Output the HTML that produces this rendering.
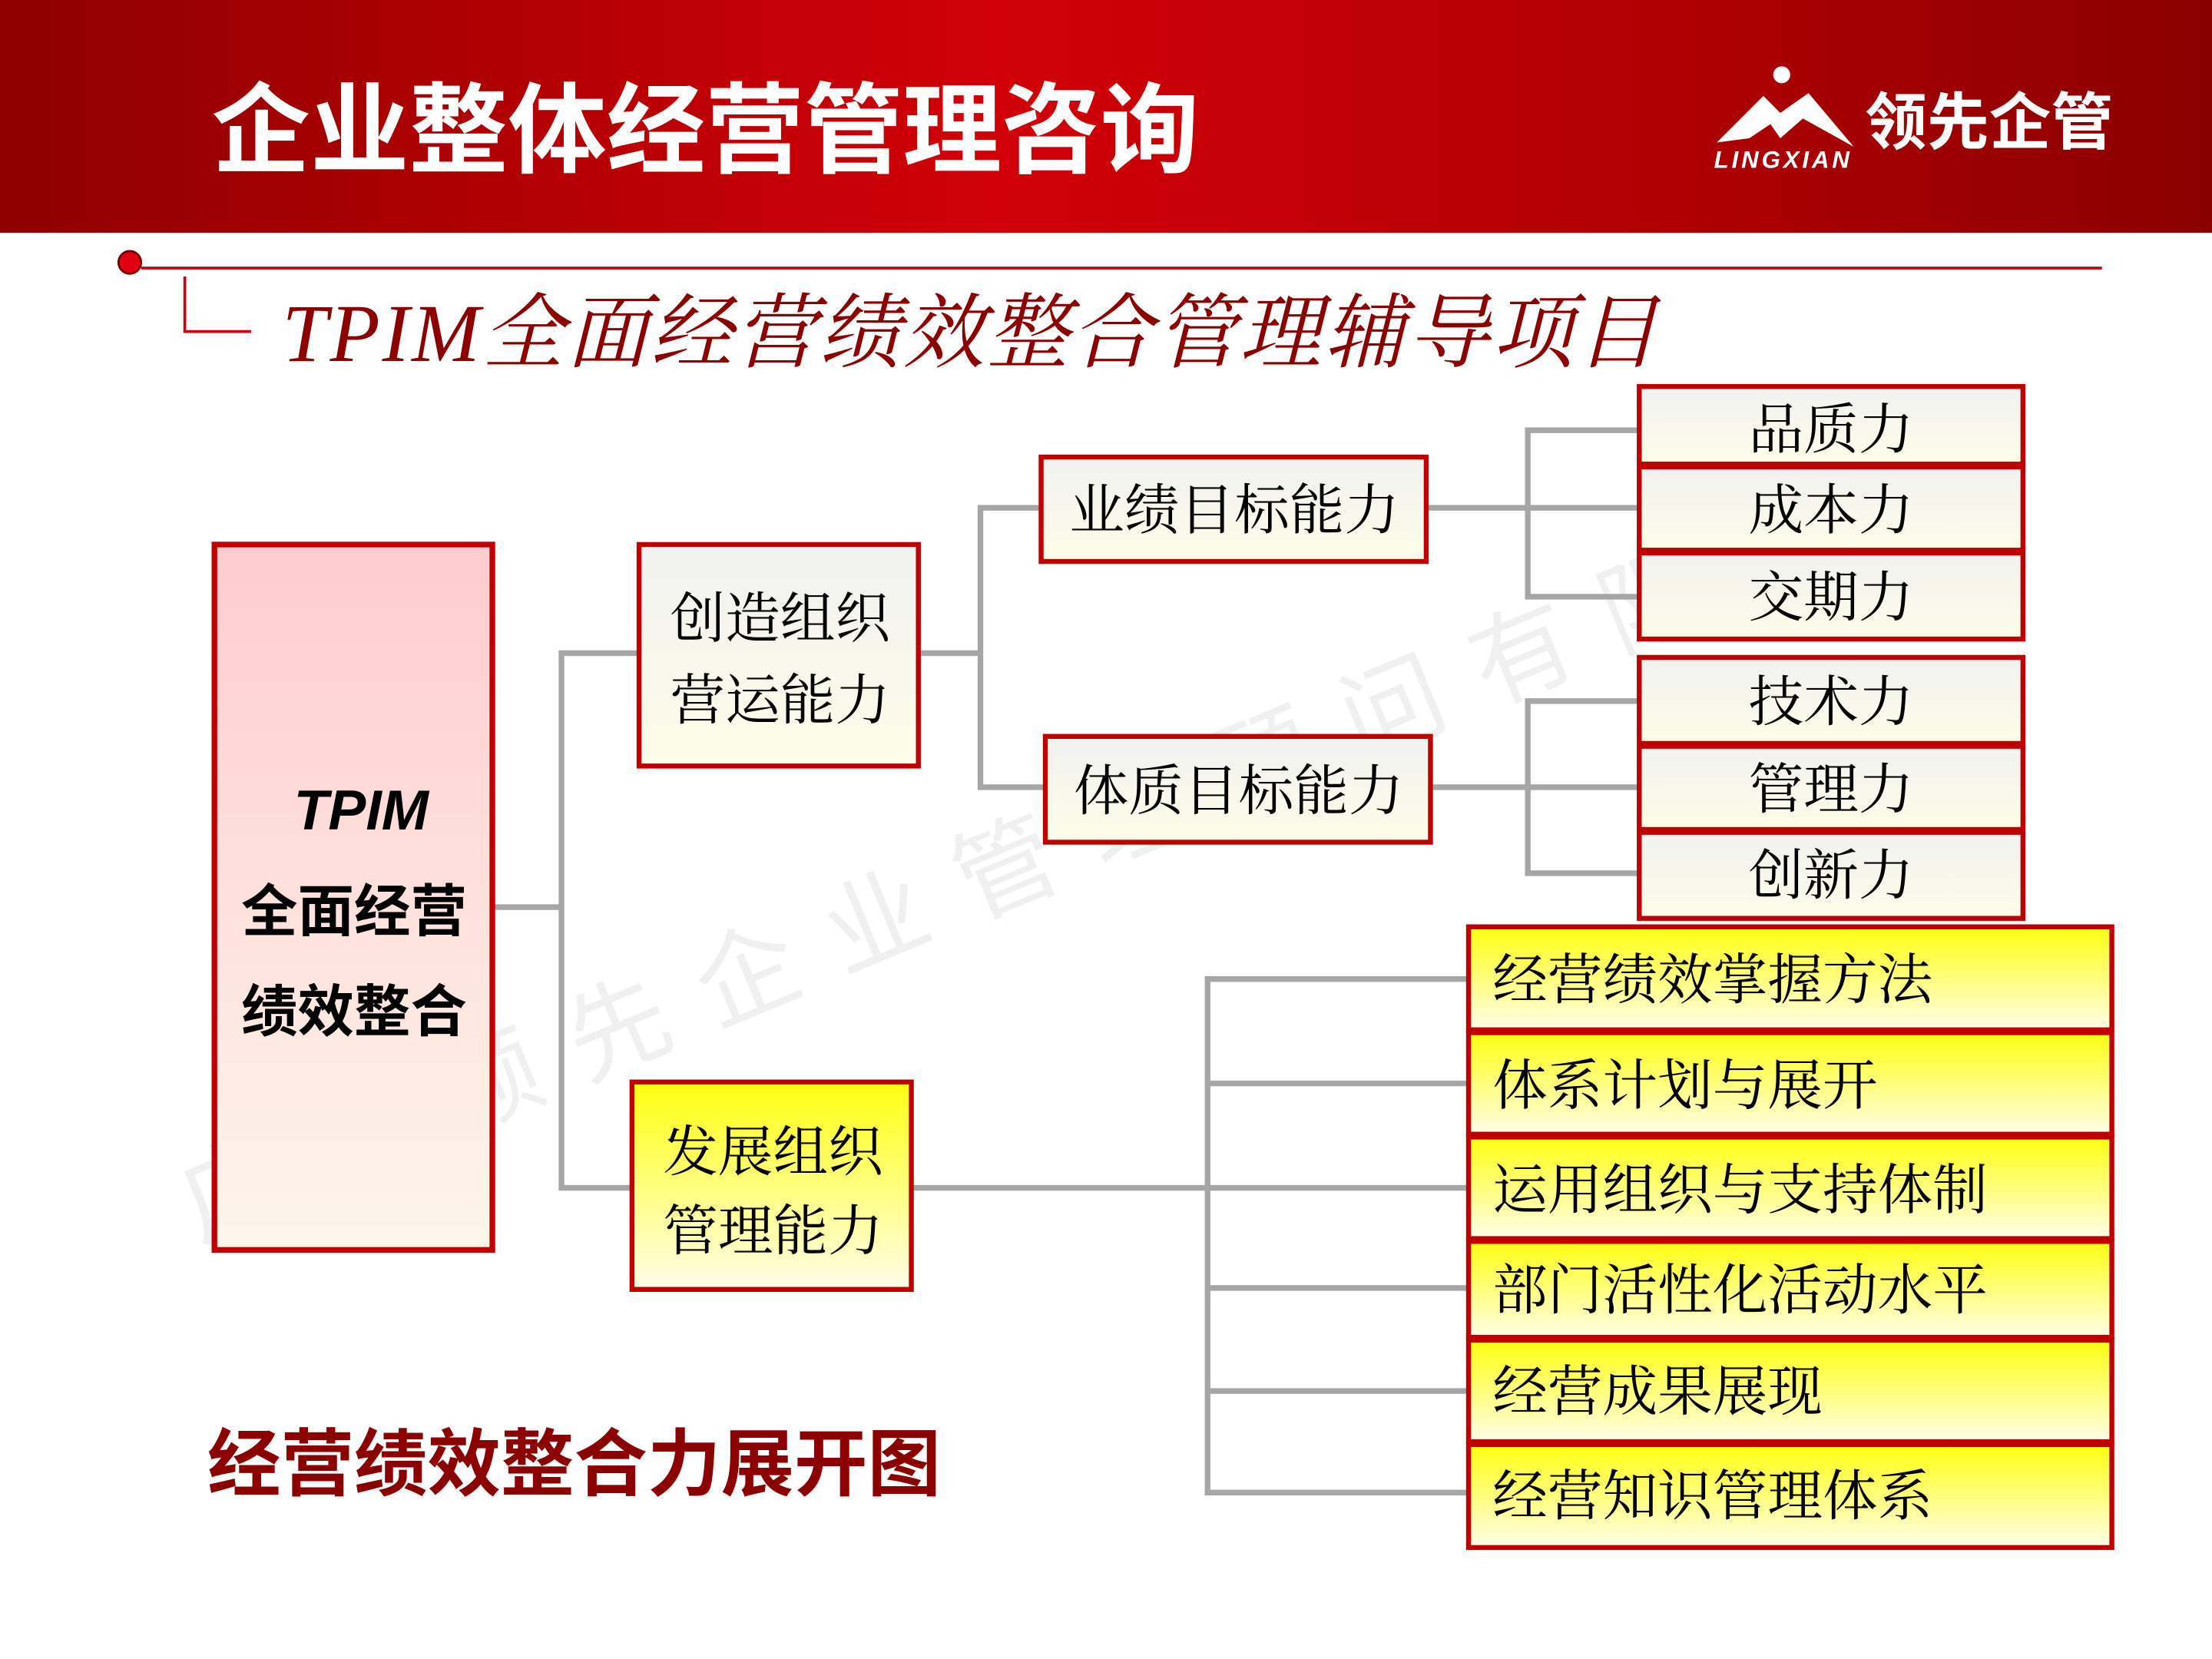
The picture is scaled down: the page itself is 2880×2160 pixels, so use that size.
<!DOCTYPE html>
<html><head><meta charset="utf-8"><style>
html,body{margin:0;padding:0;background:#fff;}
svg{display:block;}
</style></head><body>
<svg width="2880" height="2160" viewBox="0 0 1568 1176" xmlns="http://www.w3.org/2000/svg" font-family="'Liberation Serif','Noto Serif CJK SC',serif">
<defs>
<linearGradient id="hdr" x1="0" y1="0" x2="1" y2="0">
<stop offset="0" stop-color="#8e0000"/><stop offset="0.45" stop-color="#d10008"/><stop offset="0.75" stop-color="#b00004"/><stop offset="1" stop-color="#8a0000"/>
</linearGradient>
<linearGradient id="pink" x1="0" y1="0" x2="0" y2="1"><stop offset="0" stop-color="#ffcbcf"/><stop offset="1" stop-color="#fdf6ea"/></linearGradient>
<linearGradient id="gry" x1="0" y1="0" x2="0" y2="1"><stop offset="0" stop-color="#f1f1f1"/><stop offset="1" stop-color="#fdfde8"/></linearGradient>
<linearGradient id="yel" x1="0" y1="0" x2="0" y2="1"><stop offset="0" stop-color="#ffff10"/><stop offset="1" stop-color="#fffde8"/></linearGradient>
</defs>
<rect x="0" y="0" width="1568" height="165" fill="url(#hdr)"/>
<text x="150" y="117" font-family="'Liberation Sans','Noto Sans CJK SC',sans-serif" font-weight="bold" font-size="70" fill="#fff">企业整体经营管理咨询</text>
<!-- logo -->
<circle cx="1263" cy="53" r="6" fill="#fff"/>
<polygon points="1217,101 1250,68 1262,80 1282,66 1314,104 1278,84 1262,98 1255,88 1240,98" fill="#fff"/>
<text x="1215" y="119" font-family="'Liberation Sans',sans-serif" font-style="italic" font-weight="bold" font-size="17" fill="#fff" textLength="96">LINGXIAN</text>
<text x="1322" y="102" font-family="'Liberation Sans','Noto Sans CJK SC',sans-serif" font-weight="bold" font-size="44" fill="#fff">领先企管</text>
<!-- subtitle -->
<circle cx="92" cy="186" r="8" fill="#e00010" stroke="#700" stroke-width="1.5"/>
<line x1="100" y1="190" x2="1490" y2="190" stroke="#d00010" stroke-width="2"/>
<polyline points="131,196 131,235 178,235" fill="none" stroke="#d00010" stroke-width="2"/>
<text x="200" y="256" font-style="italic" font-size="58" fill="#8b0000" textLength="975">TPIM全面经营绩效整合管理辅导项目</text>
<!-- watermark -->
<text x="0" y="0" transform="translate(140,880) rotate(-22.5)" font-family="'Liberation Sans','Noto Sans CJK SC',sans-serif" font-size="72" fill="#000" fill-opacity="0.06" textLength="1360">广 州 领 先 企 业 管 理 顾 问 有 限 公 司</text>
<!-- connectors -->
<g stroke="#a6a6a6" stroke-width="4" fill="none">
<polyline points="350,643 398,643"/>
<polyline points="453,463 398,463 398,842 448,842"/>
<polyline points="651,463 695,463"/>
<polyline points="738,360 695,360 695,558 741,558"/>
<polyline points="1011,360 1162,360"/>
<polyline points="1162,305 1083,305 1083,423 1162,423"/>
<polyline points="1014,558 1162,558"/>
<polyline points="1162,497 1083,497 1083,619 1162,619"/>
<polyline points="646,842 1041,842"/>
<polyline points="1041,694 856,694 856,1058 1041,1058"/>
<polyline points="856,768 1041,768"/>
<polyline points="856,913 1041,913"/>
<polyline points="856,986 1041,986"/>
</g>
<!-- TPIM box -->
<rect x="152" y="386" width="197" height="500" fill="url(#pink)" stroke="#c00000" stroke-width="4"/>
<g font-family="'Liberation Sans','Noto Sans CJK SC',sans-serif" font-weight="bold" font-size="40" fill="#000" text-anchor="middle">
<text x="256" y="588" font-style="italic">TPIM</text>
<text x="251" y="660">全面经营</text>
<text x="251" y="731">绩效整合</text>
</g>
<g stroke="#c00000" stroke-width="3.5">
<rect x="453" y="386" width="198" height="157" fill="url(#gry)"/>
<rect x="448" y="767" width="198" height="147" fill="url(#yel)"/>
<rect x="738" y="324" width="273" height="74" fill="url(#gry)"/>
<rect x="741" y="522" width="273" height="75" fill="url(#gry)"/>
<rect x="1162" y="274" width="272" height="55" fill="url(#gry)"/>
<rect x="1162" y="331" width="272" height="59" fill="url(#gry)"/>
<rect x="1162" y="392" width="272" height="61" fill="url(#gry)"/>
<rect x="1162" y="466" width="272" height="61" fill="url(#gry)"/>
<rect x="1162" y="529" width="272" height="59" fill="url(#gry)"/>
<rect x="1162" y="590" width="272" height="61" fill="url(#gry)"/>
<rect x="1041" y="657" width="456" height="73" fill="url(#yel)"/>
<rect x="1041" y="732" width="456" height="72" fill="url(#yel)"/>
<rect x="1041" y="806" width="456" height="72" fill="url(#yel)"/>
<rect x="1041" y="880" width="456" height="68" fill="url(#yel)"/>
<rect x="1041" y="950" width="456" height="72" fill="url(#yel)"/>
<rect x="1041" y="1024" width="456" height="73" fill="url(#yel)"/>
</g>
<g font-size="39" fill="#000">
<text x="475" y="452">创造组织</text>
<text x="475" y="510">营运能力</text>
<text x="470" y="830">发展组织</text>
<text x="470" y="886">管理能力</text>
<text x="758" y="375">业绩目标能力</text>
<text x="761" y="574">体质目标能力</text>
<g text-anchor="middle">
<text x="1298" y="318">品质力</text>
<text x="1298" y="375">成本力</text>
<text x="1298" y="437">交期力</text>
<text x="1298" y="511">技术力</text>
<text x="1298" y="573">管理力</text>
<text x="1298" y="634">创新力</text>
</g>
<text x="1058" y="708">经营绩效掌握方法</text>
<text x="1058" y="783">体系计划与展开</text>
<text x="1058" y="857">运用组织与支持体制</text>
<text x="1058" y="928">部门活性化活动水平</text>
<text x="1058" y="1000">经营成果展现</text>
<text x="1058" y="1074">经营知识管理体系</text>
</g>
<text x="147" y="1056" font-family="'Liberation Sans','Noto Sans CJK SC',sans-serif" font-weight="bold" font-size="52" fill="#8b0000">经营绩效整合力展开图</text>
</svg>
</body></html>
